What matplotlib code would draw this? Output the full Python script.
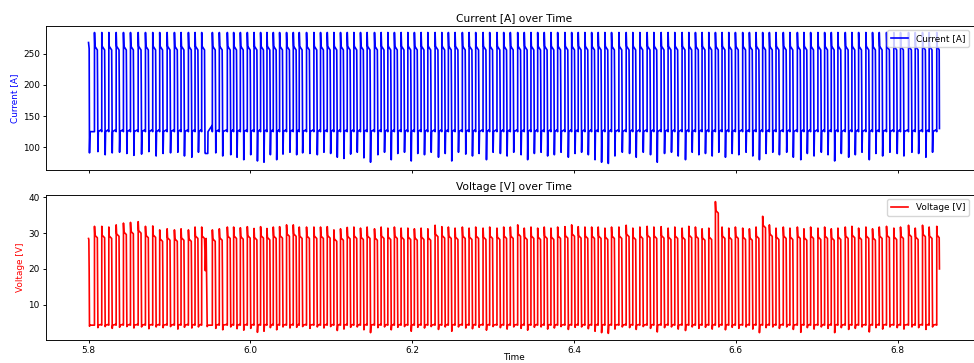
import matplotlib
matplotlib.use("Agg")
import matplotlib.pyplot as plt
import numpy as np

# rising-edge time of every pulse
rise_times = [
    5.8074, 5.8164, 5.8251, 5.8342, 5.8432, 5.8519, 5.8614, 5.8704, 5.8794, 5.8880,
    5.8972, 5.9062, 5.9144, 5.9235, 5.9317, 5.9399, 5.9531, 5.9617, 5.9716, 5.9794,
    5.9877, 5.9963, 6.0046, 6.0127, 6.0206, 6.0284, 6.0362, 6.0448, 6.0531, 6.0605,
    6.0695, 6.0786, 6.0868, 6.0951, 6.1033, 6.1115, 6.1198, 6.1280, 6.1362, 6.1444,
    6.1535, 6.1617, 6.1700, 6.1781, 6.1864, 6.1947, 6.2028, 6.2111, 6.2194, 6.2284,
    6.2367, 6.2448, 6.2531, 6.2621, 6.2704, 6.2786, 6.2877, 6.2959, 6.3049, 6.3132,
    6.3214, 6.3305, 6.3386, 6.3469, 6.3552, 6.3633, 6.3716, 6.3799, 6.3889, 6.3972,
    6.4053, 6.4136, 6.4219, 6.4300, 6.4383, 6.4465, 6.4556, 6.4646, 6.4728, 6.4815,
    6.4905, 6.4988, 6.5078, 6.5164, 6.5247, 6.5337, 6.5420, 6.5502, 6.5584, 6.5667,
    6.5749, 6.5831, 6.5914, 6.5996, 6.6086, 6.6169, 6.6251, 6.6333, 6.6416, 6.6498,
    6.6588, 6.6670, 6.6762, 6.6843, 6.6926, 6.7016, 6.7099, 6.7181, 6.7263, 6.7354,
    6.7436, 6.7519, 6.7609, 6.7691, 6.7774, 6.7864, 6.7954, 6.8037, 6.8136, 6.8219,
    6.8309, 6.8391, 6.8485,
]

# per-pulse minimum of the current dip [A]
current_dip = [
    93, 88, 91, 92, 90, 87, 89, 93, 86, 90,
    91, 92, 86, 84, 92, 91, 91, 86, 88, 84,
    80, 88, 78, 76, 88, 80, 89, 92, 88, 91,
    90, 88, 92, 90, 84, 82, 89, 92, 83, 76,
    88, 92, 80, 90, 92, 78, 90, 88, 92, 84,
    90, 78, 92, 89, 86, 90, 80, 92, 90, 86,
    92, 88, 80, 90, 92, 86, 88, 92, 84, 90,
    92, 88, 80, 76, 74, 86, 92, 90, 84, 92,
    88, 76, 90, 92, 86, 80, 92, 88, 90, 86,
    92, 84, 90, 88, 92, 86, 80, 90, 92, 88,
    92, 84, 80, 90, 86, 92, 88, 78, 90, 84,
    88, 92, 80, 90, 86, 92, 90, 86, 92, 90,
    84, 92, 90,
]

# per-pulse voltage peak [V]
voltage_peak = [
    31.9, 31.9, 31.7, 32.3, 32.8, 33.0, 33.2, 31.9, 32.0, 30.9,
    31.2, 30.9, 31.2, 30.9, 31.7, 31.7, 30.9, 31.2, 31.7, 31.7,
    31.5, 31.8, 31.3, 31.8, 31.3, 31.7, 31.8, 32.3, 32.3, 31.7,
    31.7, 31.7, 31.7, 31.8, 30.9, 31.2, 31.6, 31.7, 31.4, 31.7,
    31.2, 31.7, 31.4, 31.7, 31.4, 31.4, 31.2, 31.4, 31.2, 32.2,
    31.8, 31.7, 31.4, 31.7, 31.4, 31.7, 31.4, 31.7, 31.4, 31.7,
    31.7, 32.3, 31.4, 31.7, 31.4, 31.7, 31.4, 31.7, 31.8, 32.3,
    31.8, 31.7, 31.7, 31.7, 31.4, 31.7, 31.7, 32.2, 31.4, 31.7,
    31.9, 31.7, 31.8, 31.4, 31.7, 31.4, 31.9, 31.7, 31.2, 31.4,
    38.8, 31.7, 31.4, 31.7, 31.4, 31.2, 31.7, 34.7, 32.3, 31.4,
    31.7, 31.4, 31.7, 31.2, 31.7, 31.4, 31.7, 31.2, 31.4, 31.7,
    31.9, 31.4, 31.7, 31.2, 31.7, 31.9, 31.4, 31.7, 32.2, 31.4,
    32.2, 31.7, 31.9,
]

# per-pulse voltage dip [V]
voltage_dip = [
    3.6, 3.9, 3.4, 3.7, 3.9, 3.5, 3.8, 3.3, 3.8, 3.6,
    3.9, 3.2, 3.7, 3.5, 3.8, 3.9, 3.4, 3.0, 3.8, 3.3,
    2.9, 3.4, 2.3, 2.6, 3.6, 3.0, 3.8, 3.5, 3.7, 3.9,
    3.4, 3.8, 3.5, 3.9, 2.8, 3.2, 3.7, 3.8, 3.0, 2.2,
    3.6, 3.8, 3.0, 3.7, 3.9, 2.6, 3.7, 3.5, 3.9, 3.1,
    3.8, 2.6, 3.8, 3.5, 3.3, 3.7, 2.9, 3.9, 3.6, 3.2,
    3.8, 3.4, 2.9, 3.7, 3.8, 3.2, 3.5, 3.9, 3.1, 3.7,
    3.8, 3.3, 2.6, 2.2, 2.0, 3.2, 3.8, 3.6, 3.1, 3.9,
    3.4, 2.4, 3.6, 3.8, 3.2, 2.8, 3.8, 3.4, 3.7, 3.2,
    3.8, 3.0, 3.7, 3.4, 3.8, 3.2, 2.2, 3.6, 3.8, 3.4,
    3.8, 3.1, 2.3, 3.6, 3.2, 3.8, 3.4, 2.2, 3.6, 3.1,
    3.4, 3.8, 2.4, 3.6, 3.2, 3.8, 3.6, 3.2, 3.8, 3.6,
    3.1, 3.8, 3.6,
]

current_peak = 284.0
current_low = 125.0
voltage_low = 4.3
voltage_step = 19.5
gap_pulse = 15  # the long pulse near t=5.945


def build_series():
    t = [5.8000, 5.8004, 5.8008, 5.8012, 5.8018]
    cur = [268.0, 262.0, 258.0, 91.0, current_low]
    volt = [28.5, 28.2, voltage_step, 4.0, voltage_low]
    n = len(rise_times)
    for k, t0 in enumerate(rise_times):
        ip = current_peak
        vp = voltage_peak[k]
        t.append(t0 - 0.00005)
        cur.append(current_low)
        volt.append(voltage_low)
        if k == n - 1:
            # record stops on the last falling edge
            t += [t0, t0 + 0.0005, t0 + 0.0030, t0 + 0.0033]
            cur += [ip, ip - 22, ip - 28, 130.0]
            volt += [vp, vp - 2.5, vp - 3.2, 20.0]
            break
        t1 = rise_times[k + 1]
        if k == gap_pulse:
            t += [t0, t0 + 0.0005, t0 + 0.0035, t0 + 0.0041, t0 + 0.0045,
                  t0 + 0.0055, t0 + 0.0068, t0 + 0.0075, t0 + 0.0078,
                  t1 - 0.0003]
            cur += [ip, ip - 22, ip - 28, current_dip[k], 90.0,
                    90.0, 90.0, 90.0, current_low, 135.0]
            volt += [vp, vp - 2.5, vp - 3.2, 24.0, voltage_step,
                     28.5, voltage_dip[k], voltage_low, voltage_low,
                     voltage_low]
            continue
        t += [t0, t0 + 0.0005, t0 + 0.0035, t0 + 0.0038, t0 + 0.0042,
              t0 + 0.0047, t1 - 0.0008]
        cur += [ip, ip - 22, ip - 28, 200.0, current_dip[k],
                current_low, current_low + 3]
        volt += [vp, vp - 2.5, vp - 3.2, voltage_step, voltage_dip[k],
                 voltage_low, voltage_low + 0.2]
    return np.array(t), np.array(cur), np.array(volt)


time, current, voltage = build_series()

# the reference looks like a larger figure shrunk down, so scale the defaults
s = 0.64
plt.rcParams.update({
    'axes.linewidth': 0.8 * s * 1.3,
    'xtick.major.size': 3.5 * s, 'ytick.major.size': 3.5 * s,
    'xtick.major.width': 0.8 * s * 1.3, 'ytick.major.width': 0.8 * s * 1.3,
    'xtick.major.pad': 3.5 * s, 'ytick.major.pad': 3.5 * s,
    'xtick.labelsize': 10 * s, 'ytick.labelsize': 10 * s,
    'axes.labelsize': 10 * s, 'axes.titlesize': 12 * s,
    'legend.fontsize': 10 * s,
})

fig = plt.figure(figsize=(9.74, 3.63), dpi=100)
# the right edge of both panels runs a little past the saved picture
ax1 = fig.add_axes([0.0472, 0.5317, 0.961, 0.3967])
ax2 = fig.add_axes([0.0472, 0.0634, 0.961, 0.3994], sharex=ax1)

ax1.plot(time, current, color='blue', lw=1.2, label='Current [A]')
ax1.set_title('Current [A] over Time', pad=6 * s)
ax1.set_ylabel('Current [A]', color='blue', labelpad=4 * s)
ax1.tick_params(axis='x', labelbottom=False)
ax1.legend(loc='upper right', bbox_to_anchor=(0.999, 0.9284),
           bbox_transform=fig.transFigure, borderaxespad=0.5)

ax2.plot(time, voltage, color='red', lw=1.2, label='Voltage [V]')
ax2.set_title('Voltage [V] over Time', pad=6 * s)
ax2.set_ylabel('Voltage [V]', color='red', labelpad=4 * s)
ax2.set_xlabel('Time', labelpad=-1.5)
ax2.legend(loc='upper right', bbox_to_anchor=(0.999, 0.4628),
           bbox_transform=fig.transFigure, borderaxespad=0.5)

fig.savefig('out.png', dpi=100)
